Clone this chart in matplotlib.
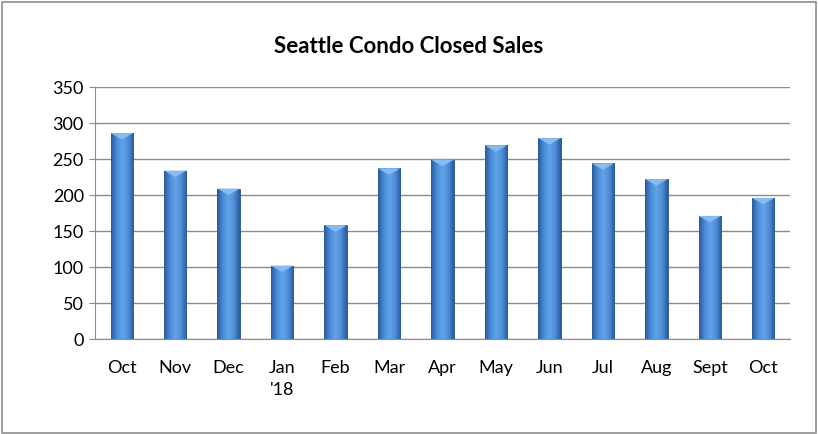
import numpy as np
import matplotlib.pyplot as plt
from matplotlib.colors import LinearSegmentedColormap
from matplotlib.patches import Rectangle

months = ["Oct", "Nov", "Dec", "Jan\n'18", "Feb", "Mar", "Apr",
          "May", "Jun", "Jul", "Aug", "Sept", "Oct"]
closed_sales = [286, 234, 209, 102, 158, 237, 249, 269, 279, 244, 222, 171, 196]
y_ticks = [0, 50, 100, 150, 200, 250, 300, 350]

plt.rcParams['font.family'] = ['Lato', 'DejaVu Sans']

fig = plt.figure(figsize=(8.18, 4.34), dpi=100)
fig.patches.append(Rectangle((0.002, 0.003), 0.995, 0.993, transform=fig.transFigure,
                             fill=False, edgecolor='#8c8c8c', linewidth=1.2))
ax = fig.add_axes([95 / 818, 95 / 434, 695 / 818, 252 / 434])

x = np.arange(len(months))
bars = ax.bar(x, closed_sales, width=0.42, color='#3f7fc8', edgecolor='#24508a',
              linewidth=0.6, zorder=3)

# horizontal shading on each bar, like the office 3d style
shade = LinearSegmentedColormap.from_list(
    'bar', ['#2a5a98', '#4b8bd8', '#62a4ea', '#4e8ed9', '#2b5b99'])
grad = np.linspace(0, 1, 64).reshape(1, -1)
for b in bars:
    x0, w, h = b.get_x(), b.get_width(), b.get_height()
    im = ax.imshow(grad, cmap=shade, aspect='auto', extent=(x0, x0 + w, 0, h),
                   zorder=4)
    im.set_clip_path(b)
    # light bevel at the top
    ax.fill([x0, x0 + w, x0 + w * 0.5],
            [h, h, h - 9], color='#86bcf0', zorder=5, linewidth=0)

ax.set_xlim(-0.5, len(months) - 0.5)
ax.set_ylim(0, 350)
ax.set_yticks(y_ticks)
ax.set_xticks(x)
ax.set_xticklabels(months, linespacing=1.45)
ax.tick_params(axis='x', length=0, pad=15, labelsize=13)
ax.tick_params(axis='y', length=4, color='#8c8c8c', pad=4, labelsize=13)
ax.grid(axis='y', color='#8c8c8c', linewidth=1, zorder=0)
for s in ['top', 'right']:
    ax.spines[s].set_visible(False)
ax.spines['left'].set_color('#8c8c8c')
ax.spines['bottom'].set_color('#8c8c8c')

fig.text(0.5, 0.893, "Seattle Condo Closed Sales", ha='center', va='center',
         fontsize=16, fontweight='bold')

fig.savefig('out.png', dpi=100)
